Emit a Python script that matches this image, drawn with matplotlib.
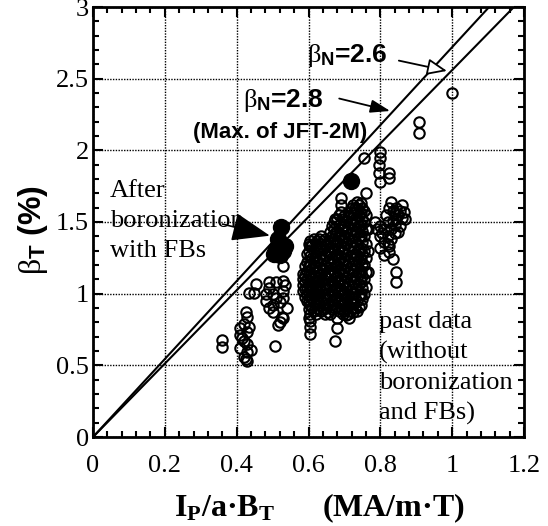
import matplotlib
matplotlib.use("Agg")
import matplotlib.pyplot as plt
import numpy as np

plt.rcParams['mathtext.fontset'] = 'custom'
plt.rcParams['mathtext.rm'] = 'Liberation Serif'
plt.rcParams['mathtext.it'] = 'Liberation Serif:italic'
plt.rcParams['mathtext.bf'] = 'Liberation Serif:bold'
plt.rcParams['mathtext.sf'] = 'Liberation Sans:bold'

# ---------------- data ----------------
x_ticks = [0, 0.2, 0.4, 0.6, 0.8, 1.0, 1.2]
x_tick_labels = ["0", "0.2", "0.4", "0.6", "0.8", "1", "1.2"]
y_ticks = [0, 0.5, 1.0, 1.5, 2.0, 2.5, 3.0]
y_tick_labels = ["0", "0.5", "1", "1.5", "2", "2.5", "3"]

beta_n_labels = ["2.8", "2.6"]
beta_n_slopes = [2.72, 2.56]     # slopes as drawn in the figure

# sparse past-data points
sparse_x = [1.00, 0.908, 0.908, 0.755, 0.76, 0.36, 0.36, 0.508, 0.455, 0.435,
            0.448, 0.53, 0.69, 0.69, 0.843, 0.843, 0.675, 0.68, 0.68, 0.714]
sparse_y = [2.40, 2.20, 2.12, 1.95, 1.70, 0.68, 0.63, 0.635, 1.07, 1.005,
            1.005, 1.19, 1.67, 1.62, 1.15, 1.08, 0.67, 0.76, 0.83, 0.83]

# column near x = 0.42
col042_x = [0.427, 0.43, 0.42, 0.41, 0.43, 0.41, 0.42, 0.43, 0.41, 0.43,
            0.42, 0.43, 0.44, 0.425, 0.415, 0.435]
col042_y = [0.87, 0.84, 0.79, 0.76, 0.73, 0.71, 0.67, 0.65, 0.62, 0.59,
            0.56, 0.53, 0.61, 0.545, 0.69, 0.77]

# column near x = 0.5
col050_x = [0.49, 0.49, 0.53, 0.535, 0.483, 0.50, 0.483, 0.49, 0.50, 0.53,
            0.53, 0.50, 0.53, 0.52, 0.54, 0.515, 0.525, 0.51, 0.52, 0.51]
col050_y = [1.08, 1.04, 1.09, 1.06, 1.00, 1.00, 0.95, 0.90, 0.92, 1.02,
            0.97, 0.87, 0.83, 0.80, 0.90, 0.78, 0.84, 1.08, 0.94, 0.97]

# column near x = 0.8 (upper)
col080_x = [0.80, 0.80, 0.795, 0.795, 0.80, 0.825, 0.825]
col080_y = [1.99, 1.95, 1.90, 1.84, 1.78, 1.84, 1.81]

# right cluster near x = 0.82
rc_x = [0.83, 0.86, 0.865, 0.85, 0.845, 0.835, 0.825, 0.855, 0.84, 0.83,
        0.82, 0.81, 0.80, 0.79, 0.785, 0.80, 0.81, 0.82, 0.825, 0.80,
        0.81, 0.825, 0.835, 0.87, 0.86, 0.845, 0.84, 0.815, 0.83, 0.85,
        0.84, 0.855, 0.835, 0.82, 0.805]
rc_y = [1.64, 1.62, 1.57, 1.55, 1.52, 1.58, 1.60, 1.47, 1.48, 1.45,
        1.50, 1.45, 1.40, 1.45, 1.50, 1.47, 1.36, 1.40, 1.33, 1.32,
        1.27, 1.29, 1.24, 1.52, 1.53, 1.60, 1.42, 1.55, 1.38, 1.43,
        1.56, 1.58, 1.51, 1.35, 1.42]

# main dense cluster (x 0.58 - 0.77), listed column by column
main_col_x = [0.585, 0.595, 0.605, 0.615, 0.625, 0.635, 0.645, 0.655, 0.665,
              0.675, 0.685, 0.695, 0.705, 0.715, 0.725, 0.735, 0.745, 0.755,
              0.765]
main_col_y = [
    [1.02, 1.06, 1.10, 1.14],
    [0.95, 1.00, 1.05, 1.10, 1.16, 1.22, 1.28],
    [0.72, 0.77, 0.81, 0.86, 0.92, 0.98, 1.04, 1.12, 1.19, 1.26, 1.33, 1.37],
    [0.88, 0.94, 1.01, 1.08, 1.15, 1.22, 1.30, 1.38],
    [0.90, 0.97, 1.03, 1.09, 1.16, 1.23, 1.31, 1.37],
    [0.88, 0.95, 1.02, 1.08, 1.14, 1.21, 1.28, 1.35, 1.40],
    [0.86, 0.92, 0.99, 1.06, 1.13, 1.20, 1.27, 1.34, 1.38],
    [0.87, 0.93, 1.00, 1.07, 1.14, 1.22, 1.30, 1.36],
    [0.89, 0.95, 1.02, 1.09, 1.17, 1.25, 1.32, 1.40, 1.47],
    [0.90, 0.97, 1.04, 1.11, 1.19, 1.27, 1.35, 1.42, 1.52],
    [0.88, 0.94, 1.01, 1.08, 1.16, 1.24, 1.32, 1.40, 1.48, 1.55],
    [0.86, 0.92, 0.99, 1.06, 1.13, 1.21, 1.29, 1.37, 1.45, 1.52],
    [0.85, 0.90, 0.97, 1.04, 1.11, 1.19, 1.27, 1.35, 1.43, 1.50],
    [0.88, 0.95, 1.02, 1.10, 1.18, 1.26, 1.34, 1.42, 1.50, 1.57],
    [0.87, 0.93, 1.00, 1.08, 1.16, 1.24, 1.32, 1.40, 1.48, 1.56, 1.62],
    [0.88, 0.95, 1.03, 1.11, 1.19, 1.27, 1.35, 1.43, 1.51, 1.59, 1.64],
    [0.92, 1.00, 1.08, 1.16, 1.24, 1.32, 1.40, 1.48, 1.56, 1.63],
    [1.00, 1.10, 1.20, 1.30, 1.40, 1.50, 1.58],
    [1.15, 1.30, 1.45],
]
# second, interleaved set of columns of the same dense cluster
main2_col_x = [0.59, 0.60, 0.61, 0.62, 0.63, 0.64, 0.65, 0.66, 0.67, 0.68,
               0.69, 0.70, 0.71, 0.72, 0.73, 0.74, 0.75, 0.76]
main2_col_y = [
    [0.98, 1.03, 1.08, 1.13, 1.19],
    [0.83, 0.89, 0.95, 1.01, 1.07, 1.14, 1.20, 1.30, 1.35],
    [0.91, 0.97, 1.04, 1.11, 1.18, 1.25, 1.34],
    [0.86, 0.93, 1.00, 1.06, 1.12, 1.19, 1.27, 1.34],
    [0.92, 0.99, 1.05, 1.11, 1.18, 1.25, 1.32, 1.38],
    [0.89, 0.96, 1.03, 1.10, 1.17, 1.24, 1.31, 1.37],
    [0.90, 0.97, 1.04, 1.11, 1.18, 1.26, 1.33],
    [0.86, 0.92, 0.99, 1.06, 1.13, 1.21, 1.29, 1.36, 1.43],
    [0.93, 1.00, 1.07, 1.15, 1.23, 1.31, 1.38, 1.45, 1.50],
    [0.91, 0.98, 1.05, 1.12, 1.20, 1.28, 1.36, 1.44, 1.52],
    [0.89, 0.96, 1.03, 1.10, 1.17, 1.25, 1.33, 1.41, 1.49, 1.57],
    [0.88, 0.94, 1.01, 1.08, 1.16, 1.24, 1.32, 1.40, 1.47, 1.54],
    [0.86, 0.92, 0.99, 1.07, 1.15, 1.23, 1.31, 1.39, 1.46, 1.54],
    [0.90, 0.97, 1.05, 1.13, 1.21, 1.29, 1.37, 1.45, 1.53, 1.60],
    [0.90, 0.97, 1.04, 1.12, 1.20, 1.28, 1.36, 1.44, 1.52, 1.60],
    [0.91, 0.99, 1.07, 1.15, 1.23, 1.31, 1.39, 1.47, 1.55, 1.62],
    [0.96, 1.04, 1.12, 1.20, 1.28, 1.36, 1.44, 1.52, 1.60],
    [1.05, 1.15, 1.25, 1.35, 1.45, 1.55],
]

# after boronization with FBs (filled)
after_x = [0.524, 0.515, 0.51, 0.53, 0.52, 0.535, 0.505, 0.719]
after_y = [1.463, 1.38, 1.31, 1.30, 1.27, 1.33, 1.28, 1.786]

# ---------------- figure ----------------
W, H = 548, 526
fig = plt.figure(figsize=(W / 100, H / 100), dpi=100)
ax = fig.add_axes([93 / W, (H - 437) / H, (524 - 93) / W, (437 - 7) / H])

main_x = []
main_y = []
for cols_x, cols_y in ((main_col_x, main_col_y), (main2_col_x, main2_col_y)):
    for cx, ys in zip(cols_x, cols_y):
        for yy in ys:
            main_x.append(cx)
            main_y.append(yy)

past_x = sparse_x + col042_x + col050_x + col080_x + rc_x + main_x
past_y = sparse_y + col042_y + col050_y + col080_y + rc_y + main_y

ax.plot(past_x, past_y, linestyle='none', marker='o', ms=7.5, mfc='none',
        mec='black', mew=1.5)
ax.plot(after_x, after_y, linestyle='none', marker='o', ms=11.5,
        mfc='black', mec='black')

xl = np.array([0, 1.2])
for s in beta_n_slopes:
    ax.plot(xl, s * xl, color='black', lw=1.5)

ax.set_xlim(0, 1.2)
ax.set_ylim(0, 3)
ax.set_xticks(x_ticks)
ax.set_xticklabels(x_tick_labels)
ax.set_yticks(y_ticks)
ax.set_yticklabels(y_tick_labels)
ax.set_xticks(np.arange(0, 1.2001, 0.04), minor=True)
ax.set_yticks(np.arange(0, 3.0001, 0.1), minor=True)
ax.tick_params(which='both', direction='in', top=True, right=True,
               width=1.5, colors='black')
ax.tick_params(which='major', length=7)
ax.tick_params(which='minor', length=4)
ax.tick_params(axis='x', which='major', pad=13)
ax.tick_params(axis='y', which='major', pad=3)
for lab in ax.get_xticklabels() + ax.get_yticklabels():
    lab.set_fontfamily('Liberation Serif')
    lab.set_fontsize(19)
for sp in ax.spines.values():
    sp.set_linewidth(2)
ax.grid(True, which='major', color='black', linestyle=(0, (1, 1)), lw=1)

# axis labels
fig.text(33 / W, 1 - 230 / H, r"$\mathrm{\beta}_{\mathsf{T}}$ (%)",
         rotation=90, ha='center', va='center', fontsize=23,
         fontfamily='Liberation Sans', fontweight='bold')
fig.text(319 / W, 1 - 508 / H,
         r"$\mathbf{I}_{\mathbf{P}}$/a·$\mathbf{B}_{\mathbf{T}}$      (MA/m·T)",
         ha='center', va='center', fontsize=23,
         fontfamily='Liberation Serif', fontweight='bold')

# annotations
ax.text(0.597, 2.617, r"$\mathrm{\beta}_{\mathsf{N}}$=" + beta_n_labels[1],
        fontsize=19, fontfamily='Liberation Sans', fontweight='bold',
        ha='left', va='baseline')
ax.annotate("", xy=(0.993, 2.55), xytext=(0.844, 2.63),
            arrowprops=dict(arrowstyle='-|>,head_length=0.6,head_width=0.25',
                            fc='white', ec='black', lw=1.3, mutation_scale=20))
ax.text(0.417, 2.30, r"$\mathrm{\beta}_{\mathsf{N}}$=" + beta_n_labels[0],
        fontsize=19, fontfamily='Liberation Sans', fontweight='bold',
        ha='left', va='baseline')
ax.annotate("", xy=(0.835, 2.27), xytext=(0.678, 2.366),
            arrowprops=dict(arrowstyle='-|>,head_length=0.6,head_width=0.2',
                            fc='black', ec='black', lw=1.3, mutation_scale=20))
ax.text(0.278, 2.087, "(Max. of JFT-2M)", fontsize=16,
        fontfamily='Liberation Sans', fontweight='bold',
        ha='left', va='baseline')

ax.text(0.047, 1.507, "After\nboronization\nwith FBs", fontsize=19,
        fontfamily='Liberation Serif', ha='left', va='center', linespacing=1.45)
ax.annotate("", xy=(0.50, 1.40), xytext=(0.353, 1.49),
            arrowprops=dict(arrowstyle='-|>,head_length=1.2,head_width=0.45',
                            fc='black', ec='black', lw=1.2, mutation_scale=20))

ax.text(0.797, 0.48, "past data\n(without\nboronization\nand FBs)", fontsize=19,
        fontfamily='Liberation Serif', ha='left', va='center', linespacing=1.45)

fig.savefig("out.png", dpi=100)
